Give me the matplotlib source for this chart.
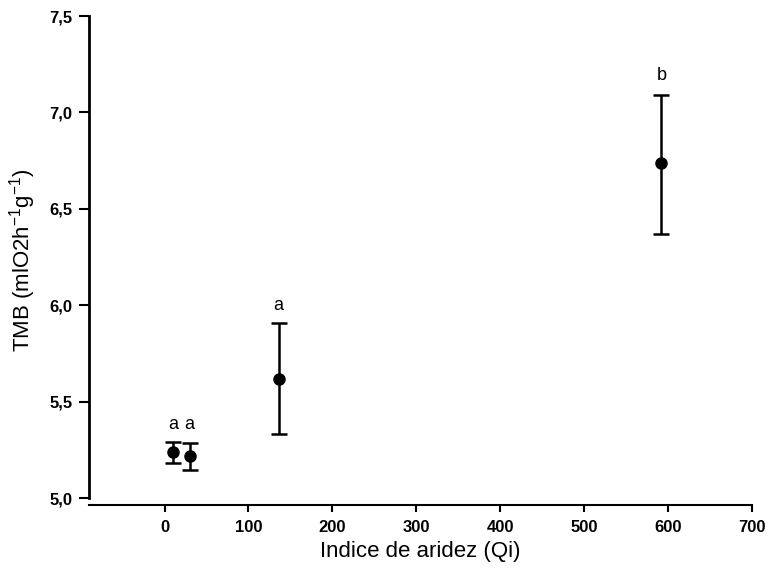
import matplotlib.pyplot as plt
from matplotlib.ticker import FuncFormatter

plt.rcParams['font.family'] = ['Liberation Sans', 'DejaVu Sans']

# dados
qi = [10, 30, 136, 592]
tmb = [5.24, 5.22, 5.62, 6.74]
err_low = [0.06, 0.075, 0.29, 0.37]
err_high = [0.05, 0.065, 0.29, 0.35]
letras = ['a', 'a', 'a', 'b']
letra_y = [5.38, 5.38, 6.0, 7.19]

fig = plt.figure(figsize=(7.71, 5.73), dpi=100)
ax = fig.add_axes([0.1154, 0.1187, 0.86, 0.8533])

ax.errorbar(qi, tmb, yerr=[err_low, err_high], fmt='o', color='black',
            markersize=8, elinewidth=1.8, capsize=6, capthick=1.8)

for x, y, t in zip(qi, letra_y, letras):
    ax.text(x, y, t, ha='center', va='center', fontsize=13)

ax.set_xlim(-90, 700)
ax.set_ylim(4.964, 7.5)
ax.spines['top'].set_visible(False)
ax.spines['right'].set_visible(False)
ax.spines['left'].set_bounds(5.0, 7.5)
ax.spines['left'].set_linewidth(2)
ax.spines['bottom'].set_linewidth(1.5)

ax.set_xticks([0, 100, 200, 300, 400, 500, 600, 700])
ax.set_yticks([5.0, 5.5, 6.0, 6.5, 7.0, 7.5])
ax.yaxis.set_major_formatter(FuncFormatter(lambda v, p: f'{v:.1f}'.replace('.', ',')))
ax.tick_params(axis='y', length=7, width=1.5, labelsize=12, pad=5)
ax.tick_params(axis='x', length=5, width=1.5, labelsize=12, pad=6)
for lbl in ax.get_xticklabels() + ax.get_yticklabels():
    lbl.set_fontweight('bold')

ax.set_xlabel('Indice de aridez (Qi)', fontsize=16, labelpad=4)
ax.set_ylabel('TMB (mlO2h$^{\\mathregular{-1}}$g$^{\\mathregular{-1}}$)', fontsize=16, labelpad=8)

fig.savefig('out.png', dpi=100)
